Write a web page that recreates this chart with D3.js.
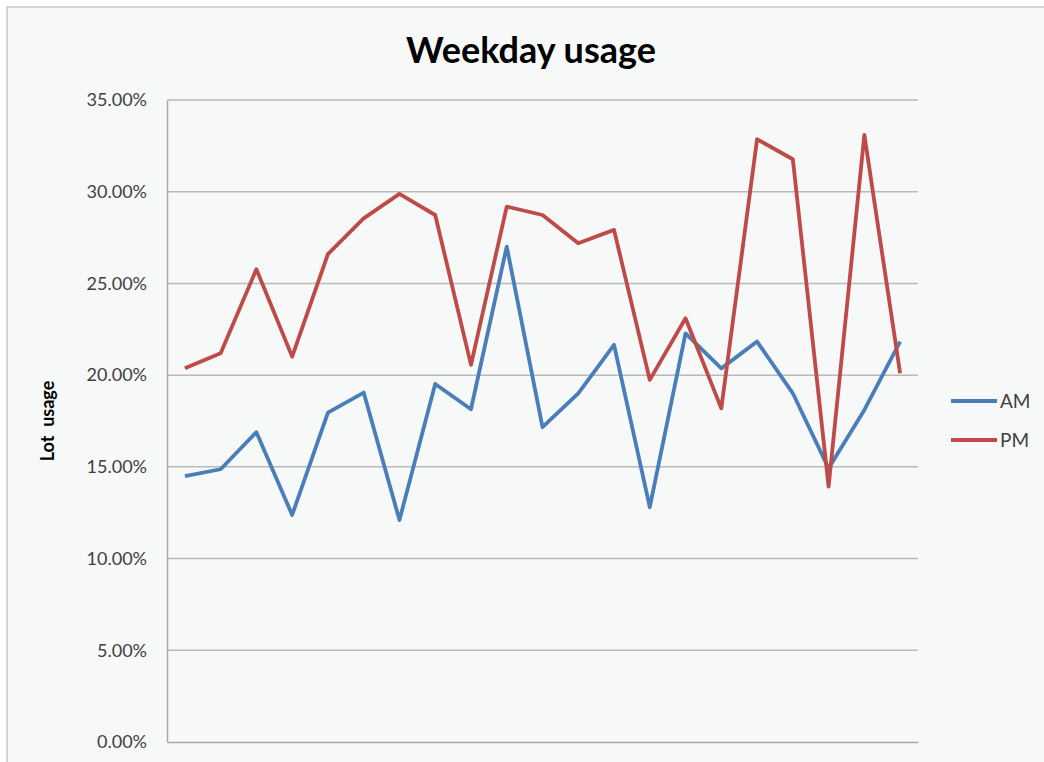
<!DOCTYPE html>
<html>
<head>
<meta charset="utf-8">
<script src="https://cdn.jsdelivr.net/npm/d3@7"></script>
<style>
  html, body { margin: 0; padding: 0; background: #fff; }
  svg { display: block; }
</style>
</head>
<body>
<svg id="chart"></svg>
<script>
// data ----------------------------------
const categories = d3.range(1, 22); // 21 weekday samples, no axis labels shown
const amValues = [14.50, 14.87, 16.89, 12.38, 17.96, 19.05, 12.10, 19.52, 18.14, 27.01,
                  17.16, 19.01, 21.65, 12.80, 22.28, 20.37, 21.83, 19.01, 14.92, 18.10, 21.83];
const pmValues = [20.37, 21.19, 25.77, 21.01, 26.60, 28.55, 29.88, 28.73, 20.56, 29.19,
                  28.73, 27.19, 27.92, 19.74, 23.10, 18.19, 32.86, 31.77, 13.92, 33.10, 20.10];
const seriesNames = ['AM', 'PM'];
const yTicks = [0, 5, 10, 15, 20, 25, 30, 35];

const W = 1044, H = 762;
const colors = { AM: '#4a7ebb', PM: '#be4b48' };
const font = 'Lato, "Open Sans", sans-serif';

const svg = d3.select('#chart').attr('width', W).attr('height', H);

// chart area background + border
svg.append('rect').attr('x', 7).attr('y', 7).attr('width', W + 10).attr('height', H + 10)
    .attr('fill', '#f7f8f8').attr('stroke', '#c8c8c8').attr('stroke-width', 1.5);

const plot = { left: 167, right: 918, top: 100, bottom: 742 };

const x = d3.scaleBand().domain(categories).range([plot.left, plot.right]);
const y = d3.scaleLinear().domain([0, 35]).range([plot.bottom, plot.top]);

// gridlines
svg.append('g').selectAll('line').data(yTicks.filter(t => t > 0)).join('line')
    .attr('x1', plot.left).attr('x2', plot.right)
    .attr('y1', d => y(d)).attr('y2', d => y(d))
    .attr('stroke', '#b9b9b9').attr('stroke-width', 1.5);

// axes
const yAxis = d3.axisLeft(y).tickValues(yTicks).tickSize(0).tickPadding(20)
    .tickFormat(d => d.toFixed(2) + '%');
const gy = svg.append('g').attr('transform', 'translate(' + plot.left + ',0)').call(yAxis);
gy.select('.domain').attr('stroke', '#a8a8a8').attr('stroke-width', 1.5);
gy.selectAll('text').attr('font-family', font).attr('font-size', 18).attr('fill', '#404040');

const xAxis = d3.axisBottom(x).tickSize(0).tickFormat('');
const gx = svg.append('g').attr('transform', 'translate(0,' + plot.bottom + ')').call(xAxis);
gx.select('.domain').attr('stroke', '#a8a8a8').attr('stroke-width', 1.5);

// lines
const line = d3.line()
    .x((d, i) => x(categories[i]) + x.bandwidth() / 2)
    .y(d => y(d));
[['AM', amValues], ['PM', pmValues]].forEach(([name, vals]) => {
    svg.append('path').datum(vals)
        .attr('fill', 'none').attr('stroke', colors[name])
        .attr('stroke-width', 3.8).attr('stroke-linejoin', 'round')
        .attr('d', line);
});

// title
svg.append('text').attr('x', 531).attr('y', 63).attr('text-anchor', 'middle')
    .attr('font-family', font).attr('font-weight', 'bold').attr('font-size', 36)
    .attr('fill', '#000').text('Weekday usage');

// y axis title
svg.append('text').attr('transform', 'translate(54,421) rotate(-90)')
    .attr('text-anchor', 'middle').attr('font-family', font).attr('font-weight', 'bold')
    .attr('font-size', 18).attr('fill', '#000').attr('xml:space', 'preserve')
    .style('white-space', 'pre').text('Lot  usage');

// legend
const legend = svg.append('g').selectAll('g').data(seriesNames).join('g')
    .attr('transform', (d, i) => 'translate(951,' + (401 + i * 39) + ')');
legend.append('line').attr('x1', 0).attr('x2', 46)
    .attr('stroke', d => colors[d]).attr('stroke-width', 3.8);
legend.append('text').attr('x', 49).attr('dy', '0.35em')
    .attr('font-family', font).attr('font-size', 19).attr('fill', '#404040')
    .text(d => d);
</script>
</body>
</html>
